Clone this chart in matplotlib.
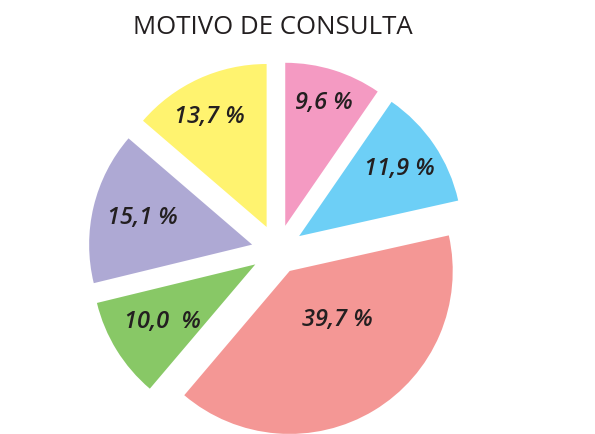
import numpy as np
import matplotlib
matplotlib.use('Agg')
import matplotlib.pyplot as plt

# values, clockwise from the top
values = [9.6, 11.9, 39.7, 10.0, 15.1, 13.7]
labels = ['9,6 %', '11,9 %', '39,7 %', '10,0  %', '15,1 %', '13,7 %']
colors = ['#F49AC2', '#6DCFF6', '#F49795', '#88C866', '#AEA9D4', '#FFF36F']
explode = [0.16, 0.16, 0.145, 0.16, 0.16, 0.16]
# label placement (fraction of radius from slice tip, angle shift in degrees)
label_dist = [0.79, 0.74, 0.42, 0.67, 0.69, 0.76]
label_shift = [0, 0, 13, 0, 0, 3]

fig = plt.figure(figsize=(5.95, 4.34), dpi=100)
ax = fig.add_axes([0, 0, 1, 1])

R = 163
cx, cy = 277.5, 434 - 250.7
# pie's explode offset is in data units, so scale it by the radius
wedges, _ = ax.pie(values, colors=colors, explode=[e * R for e in explode],
                   startangle=90, counterclock=False, radius=R, center=(cx, cy),
                   wedgeprops={'linewidth': 0})

for w, lab, d, s in zip(wedges, labels, label_dist, label_shift):
    ang = np.deg2rad((w.theta1 + w.theta2) / 2 + s)
    x0, y0 = w.center
    ax.text(x0 + d * R * np.cos(ang), y0 + d * R * np.sin(ang), lab,
            ha='center', va='center', fontsize=17, fontweight='semibold',
            fontstyle='italic', family='Open Sans', color='#231F20')

ax.set_xlim(0, 595)
ax.set_ylim(0, 434)
ax.set_aspect('equal')
ax.axis('off')

fig.text(272.5 / 595, 1 - 34 / 434, 'MOTIVO DE CONSULTA', ha='center', va='baseline',
         fontsize=18.5, family='Open Sans', color='#231F20')

fig.savefig('out.png', dpi=100)
